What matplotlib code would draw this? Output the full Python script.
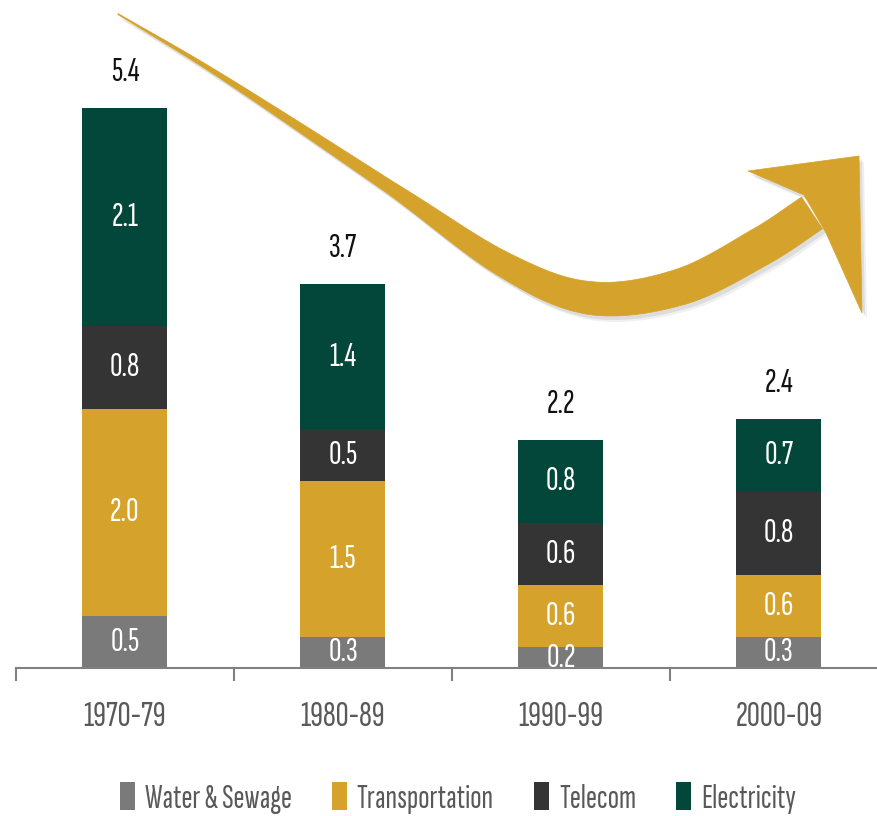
import numpy as np
import matplotlib
matplotlib.use("Agg")
import matplotlib.pyplot as plt
from matplotlib.patches import Polygon, Patch

# data
decades = ["1970-79", "1980-89", "1990-99", "2000-09"]
water = [0.5, 0.3, 0.2, 0.3]
transport = [2.0, 1.5, 0.6, 0.6]
telecom = [0.8, 0.5, 0.6, 0.8]
electricity = [2.1, 1.4, 0.8, 0.7]
totals = [5.4, 3.7, 2.2, 2.4]

series = [("Water & Sewage", water, "#7a7a7a"),
          ("Transportation", transport, "#d5a32b"),
          ("Telecom", telecom, "#343434"),
          ("Electricity", electricity, "#03473b")]

plt.rcParams["font.family"] = ["Sofia Sans Extra Condensed", "DejaVu Sans"]

W, H = 877, 816
fig = plt.figure(figsize=(W / 100, H / 100), dpi=100)
ax = fig.add_axes([16 / W, 148 / H, 861 / W, 668 / H])

x = np.arange(len(decades))
bottom = np.zeros(len(decades))
for name, vals, col in series:
    vals = np.array(vals)
    ax.bar(x, vals, 0.39, bottom=bottom, color=col, label=name)
    for xi, b, v in zip(x, bottom, vals):
        ax.text(xi, b + v / 2, f"{v:.1f}", ha="center", va="center",
                color="white", fontsize=25)
    bottom += vals

for xi, t in zip(x, totals):
    ax.annotate(f"{t:.1f}", (xi, t), xytext=(0, 26), textcoords="offset points",
                ha="center", va="center", fontsize=25, color="#111111")

ax.set_xlim(-0.5, 3.45)
ax.set_ylim(0, 6.44)
for s in ["top", "right", "left"]:
    ax.spines[s].set_visible(False)
ax.spines["bottom"].set_color("#808080")
ax.spines["bottom"].set_linewidth(1.5)
ax.set_yticks([])
ax.set_xticks(x)
ax.set_xticklabels(decades, fontsize=26, color="#595959")
ax.tick_params(axis="x", which="major", length=0, pad=24)
ax.set_xticks([-0.5, 0.5, 1.5, 2.5], minor=True)
ax.tick_params(axis="x", which="minor", length=9, width=1.5, color="#808080")

# curved arrow (decoration), in pixel coords with y down
pts = np.array([(118, 14), (224, 78), (391, 188), (503, 264), (590, 298),
                (680, 287), (760, 247), (812, 213)], float)
wid = np.array([1, 5, 13, 25, 33, 36, 38, 38], float)

def catmull(p, n=30):
    p = np.vstack([p[0] * 2 - p[1], p, p[-1] * 2 - p[-2]])
    out = []
    for i in range(1, len(p) - 2):
        p0, p1, p2, p3 = p[i - 1], p[i], p[i + 1], p[i + 2]
        for t in np.linspace(0, 1, n, endpoint=False):
            out.append(0.5 * ((2 * p1) + (-p0 + p2) * t + (2 * p0 - 5 * p1 + 4 * p2 - p3) * t ** 2
                              + (-p0 + 3 * p1 - 3 * p2 + p3) * t ** 3))
    out.append(p[-2])
    return np.array(out)

c = catmull(pts)
seg = np.r_[0, np.cumsum(np.hypot(*np.diff(pts, axis=0).T))]
cs = np.r_[0, np.cumsum(np.hypot(*np.diff(c, axis=0).T))]
w = np.interp(cs / cs[-1] * seg[-1], seg, wid)
d = np.gradient(c, axis=0)
d /= np.hypot(d[:, 0], d[:, 1])[:, None]
nrm = np.c_[-d[:, 1], d[:, 0]]
upper = c + nrm * w[:, None] / 2
lower = c - nrm * w[:, None] / 2
shaft = np.vstack([upper, lower[::-1]])
head = np.array([(748, 171), (859, 156), (862, 313), (826, 233), (804, 195)], float)

def tofig(p):
    return np.c_[p[:, 0] / W, 1 - p[:, 1] / H]

gold = "#d5a32b"
for off, a in ((5, 0.06), (3, 0.08)):
    for poly in (shaft, head):
        fig.patches.append(Polygon(tofig(poly + [off, off + 1]), closed=True,
                                   transform=fig.transFigure, facecolor="#000000",
                                   alpha=a, edgecolor="none"))
for poly in (shaft, head):
    fig.patches.append(Polygon(tofig(poly), closed=True, transform=fig.transFigure,
                               facecolor=gold, edgecolor=gold, linewidth=0.5))

handles = [Patch(facecolor=col, label=name) for name, _, col in series]
leg = fig.legend(handles=handles, loc="center", bbox_to_anchor=(458 / W, 1 - 798 / H),
                 ncol=4, frameon=False, fontsize=24, handlelength=0.45, handleheight=0.9,
                 handletextpad=0.3, columnspacing=1.2)
for t in leg.get_texts():
    t.set_color("#595959")

fig.savefig("out.png", dpi=100)
